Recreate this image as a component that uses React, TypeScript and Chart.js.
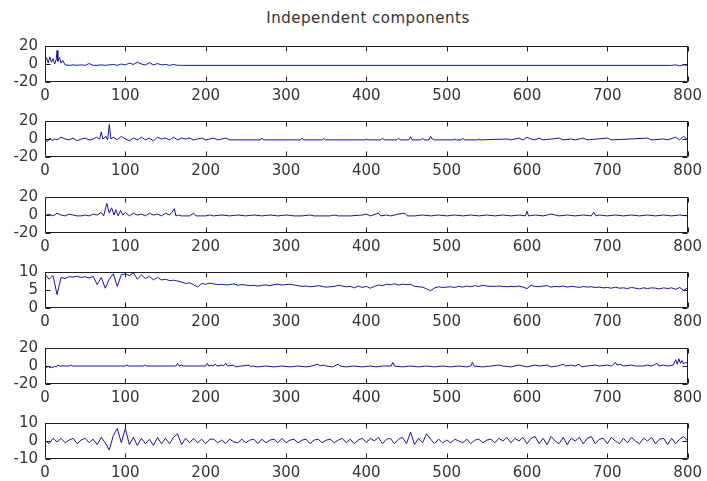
import React, { useEffect, useRef } from "react";
import { Chart, registerables } from "chart.js";
Chart.register(...registerables);

// ---------- data ----------
const title = "Independent components";
const xTicks = [0, 100, 200, 300, 400, 500, 600, 700, 800];
const xMin = 0;
const xMax = 800;
const sampleStep = 5; // sample spacing for the densely read components

const yTicks1 = [-20, 0, 20];
const yTicks2 = [-20, 0, 20];
const yTicks3 = [-20, 0, 20];
const yTicks4 = [0, 5, 10];
const yTicks5 = [-20, 0, 20];
const yTicks6 = [-10, 0, 10];

// component 1: [sample, value]
const comp1: [number, number][] = [
  [0, 3], [2, 7], [4, 1], [6, 8], [8, 2], [10, 6], [12, 0], [14, 5], [15, 15], [16, 3],
  [18, 7], [20, 1], [22, 4], [25, -1], [30, -1.5], [35, -1], [40, -1.5], [45, -1], [50, -1.5], [55, 0.5],
  [60, -1.5], [65, -1.5], [70, -1], [75, -1.5], [80, -1], [85, -0.5], [90, -1.5], [95, 0], [100, -1], [105, 1],
  [110, -0.5], [115, 2], [120, 0], [125, -1], [130, 1.5], [135, -1], [140, 0.5], [145, -1], [150, -0.5], [155, -1.5],
  [160, -0.5], [165, -1.5], [170, -1.5], [780, -1.5], [785, -1], [790, -2], [795, -1], [800, -1.5],
];

// component 2
const comp2: [number, number][] = [
  [0, 0], [3, -3], [6, 1], [9, -2], [12, 0], [15, -1], [20, 2], [25, 0], [30, -1], [35, 1],
  [40, -2], [45, 0], [50, 1], [55, -1], [60, 0], [64, 2], [68, 0], [70, 8], [72, 0], [76, 3],
  [78, -1], [80, 16], [82, 0], [85, 2], [90, -1], [95, 3], [100, 0], [105, -2], [110, 1], [115, -1],
  [120, 2], [125, -1], [130, 1], [135, -2], [140, 2], [145, 0], [150, 1], [155, -1], [160, 2], [165, -1],
  [170, 1], [175, 0], [180, 1], [185, -1], [190, 0], [195, 1], [200, -1], [205, 0], [210, 1], [215, -1],
  [220, 0], [225, 1], [230, -1], [240, -1], [250, -1], [268, -1], [270, 1], [272, -1], [318, -1], [320, 1],
  [322, -1], [345, -1], [347, 0.5], [349, -1], [398, -1], [400, 0], [402, -1], [418, -1], [420, 1], [422, -1],
  [438, -1], [440, 1], [442, -1], [453, -1], [455, 2.5], [457, -1], [468, -1], [470, 1], [472, -1], [478, -1],
  [480, 3], [482, 0], [485, -1], [508, -1], [510, 0], [512, -1], [518, -1], [520, 1], [522, -1], [538, -1],
  [540, 0], [542, -1], [575, 0], [580, -1], [590, 1], [595, -1], [600, 2], [605, 0], [610, -1], [615, 1],
  [620, -1], [630, 0], [640, 1], [645, -1], [655, 0], [660, -1], [670, 1], [675, -1], [700, 1], [705, -1],
  [750, 1], [755, -1], [770, 0], [775, -1], [785, 2], [790, -1], [795, 3], [800, -1],
];

// component 3
const comp3: [number, number][] = [
  [0, -1], [5, 1], [10, -1], [15, 2], [20, 0], [25, -1], [30, 1], [35, 0], [40, -1], [45, -1],
  [50, 0], [55, -1], [60, 1], [65, 0], [70, 3], [73, -1], [77, 13], [80, 2], [83, 8], [86, 0],
  [88, 6], [91, -1], [94, 5], [97, 0], [100, 3], [105, -1], [110, 2], [115, 0], [120, 1], [125, -1],
  [130, 2], [135, 0], [140, 1], [145, -1], [150, 2], [155, 0], [158, 3], [161, 7], [163, -1], [166, 0],
  [170, -1], [180, -1], [185, 2], [188, -1], [200, -1], [205, 0], [210, -1], [220, 0], [230, -1], [240, 0],
  [250, -1], [260, 0], [270, -1], [280, 0], [290, -1], [300, 0], [310, -1], [320, -1], [330, 0], [335, -1],
  [355, -1], [360, 0], [365, -1], [380, -1], [395, 0], [400, 1], [405, -1], [415, 2], [418, -1], [425, 0],
  [430, -1], [440, 1], [448, 2], [451, -1], [460, -1], [470, 0], [480, -1], [490, 0], [500, -1], [510, 0],
  [520, -1], [530, 0], [540, -1], [550, 0], [560, -1], [570, 0], [580, -1], [590, 0], [598, -1], [600, 4],
  [602, -1], [610, 0], [620, -1], [630, 1], [640, -1], [650, 0], [660, -1], [670, 0], [680, -1], [683, 3],
  [686, -1], [690, 0], [700, -1], [710, 0], [720, -1], [730, 0], [740, -1], [750, 0], [760, -1], [770, 0],
  [780, -1], [790, 0], [800, -1],
];

// component 4: one value every sampleStep samples (0..800)
const comp4: number[] = [
  9.5, 8, 9, 3.7, 8.5, 8.2, 8.7, 8.6, 8.8, 8.5,
  8.7, 8.3, 8.8, 6.5, 8.5, 5.5, 8, 9.5, 6, 9.3,
  9.5, 9, 9.8, 8, 9.2, 8.2, 8.8, 7.8, 8.5, 7.8,
  8, 7.6, 7.7, 7.5, 7.2, 6.8, 7, 6.5, 5.8, 6.8,
  6.6, 6.9, 6.7, 6.5, 6.6, 6.4, 6.5, 6.7, 6.3, 6.5,
  6.4, 6.2, 6.3, 6.1, 6.3, 6.4, 6.2, 6.5, 6.6, 6.4,
  6.5, 6.6, 6.4, 6.2, 6, 6.1, 5.9, 6, 6.2, 6,
  5.8, 5.9, 6, 6.3, 6.1, 5.9, 6, 5.6, 6.1, 5.7,
  6, 5.5, 6, 6.4, 6.2, 6.6, 6.5, 6.7, 6.4, 6.6,
  6.5, 6.6, 6, 5.9, 5.8, 5.3, 4.8, 5.6, 5.9, 5.7,
  5.8, 5.9, 5.7, 6, 5.8, 6.1, 5.9, 6.2, 6, 6.3,
  6.1, 6, 6, 6.1, 6, 5.9, 6, 5.9, 6.1, 5.8,
  5.4, 6.3, 6, 5.9, 6.1, 6.2, 5.8, 6, 5.9, 6.1,
  5.8, 6, 5.9, 5.7, 6, 5.8, 5.9, 5.7, 5.8, 5.6,
  5.7, 5.5, 5.8, 5.5, 5.6, 5.4, 5.7, 5.5, 5.3, 5.6,
  5.4, 5.6, 5.5, 5.3, 5.6, 5.4, 5.6, 5.2, 5.7, 4.9,
  5.6,
];

// component 5
const comp5: [number, number][] = [
  [0, -1], [2, -2], [4, 0], [6, -2], [8, -1], [10, -2], [12, 0], [14, -1], [16, 1], [18, 0],
  [30, 0], [32, 1], [34, 0], [100, 0], [102, 1], [104, 0], [122, 0], [124, 1], [126, 0], [163, 0],
  [165, 3], [167, 0], [170, 1], [172, 0], [200, 0], [202, 3], [204, 0], [207, 1], [209, 0], [212, 2],
  [214, 0], [220, 1], [222, 0], [225, 3], [227, 0], [235, 1], [237, -1], [245, 0], [254, 1], [256, -1],
  [258, 0], [265, -1], [275, 0], [285, -1], [295, 0], [305, -1], [315, 0], [325, -1], [332, 0], [336, 1],
  [340, 2], [342, 0], [346, 1], [350, 0], [358, -1], [365, 2], [367, 0], [375, -1], [385, 0], [395, -1],
  [405, 0], [412, -1], [420, 0], [431, 0], [433, 4], [435, 0], [445, -1], [455, 0], [465, -1], [475, 0],
  [485, -1], [495, 0], [505, -1], [515, 0], [525, -1], [530, 0], [532, 4], [534, 0], [545, -1], [555, 0],
  [565, 1], [570, 0], [580, -1], [590, 1], [595, 0], [600, -1], [610, 1], [615, 0], [625, 1], [630, -1],
  [638, 0], [642, 1], [645, 2], [648, 0], [655, 1], [660, 0], [665, 2], [668, -1], [675, 0], [685, 1],
  [690, 0], [700, 1], [705, 0], [708, 2], [710, 4], [712, 1], [716, 2], [720, 0], [730, 1], [735, 0],
  [745, 0], [750, 1], [755, 0], [760, 2], [762, 3], [764, 0], [770, 1], [775, 0], [782, 1], [785, 7],
  [787, 2], [789, 8], [791, 3], [793, 6], [795, 2], [797, 4], [800, 3],
];

// component 6: one value every sampleStep samples (0..800)
const comp6: number[] = [
  0.5, -1.5, 1.5, -0.5, 1.5, -1, 0.5, 1.5, -1.5, 0.5,
  1.5, -1, 1, -2, 2, -1, -5, 3, 7, -1,
  7, -2, 2, -2.5, 1.5, -1.5, 1, -2.5, 2, -1.5,
  1.5, -1.5, 2, 4, -2, 1.5, -1, 1.5, -1, 1,
  -1.5, 1, 1, -1, 0.5, -1.5, 1, -0.5, -1, 1,
  -1, 0.5, 1, -1.5, 1, -1, 0.5, 1, -1, 1.5,
  -1, 0.5, 1, -1, 0.5, 1, -1.5, 0.5, 1, -1,
  0.5, 1, -1, 0.5, 1.5, -1, 1, -1.5, 0.5, 1.5,
  -1, 1.5, 0, 2, -1.5, 1, 1.5, -1.5, 1, 2,
  -1.5, 5, -2, 1.5, -1, 4, 1, -1.5, 1, -1,
  0.5, -1, 1, 0, -1, 1, -1.5, 0.5, 1, -1,
  0.5, 1, -1, 1.5, 0, 2, -1, 1.5, 0, 2,
  -1.5, 1.5, 2.5, -1.5, 1.5, -2, 2.5, 0, -1.5, 2,
  -2, 1.5, 0, 2, -1.5, 1.5, 2.5, -1.5, 1, 1.5,
  -1.5, 2, 0, -1.5, 1.5, -1, 2, 0, -1.5, 1.5,
  0, 2, -1.5, 1, 1.5, -2, 1.5, -1.5, 1, 2.5,
  0,
];

// ---------- layout / style ----------
const W = 707;
const H = 481;
const AXIS_LEFT = 45;
const AXIS_RIGHT = 691;
const PANEL_H = 43;
const PANEL_TOPS = [39, 114, 190, 265, 341, 416];
const PAD_TOP = 9;
const XAXIS_H = 24;
const LINE_COLOR = "#1515a0";
const AXIS_COLOR = "#1e1e1e";
const TEXT_COLOR = "#333333";
const FONT = { family: "'DejaVu Sans', sans-serif", size: 15 };
const TICK_LEN = 5;

const pairs = (p: [number, number][]) => p.map(([x, y]) => ({ x, y }));
const sampled = (v: number[]) => v.map((y, i) => ({ x: i * sampleStep, y }));

const panels = [
  { points: pairs(comp1), yTicks: yTicks1 },
  { points: pairs(comp2), yTicks: yTicks2 },
  { points: pairs(comp3), yTicks: yTicks3 },
  { points: sampled(comp4), yTicks: yTicks4 },
  { points: pairs(comp5), yTicks: yTicks5 },
  { points: sampled(comp6), yTicks: yTicks6 },
];

const boxPlugin = {
  id: "matlabBox",
  afterDraw(chart: any) {
    const { ctx, chartArea } = chart;
    const xs = chart.scales.x;
    const ys = chart.scales.y;
    const l = Math.round(chartArea.left) + 0.5;
    const r = Math.round(chartArea.right) - 0.5;
    const t = Math.round(chartArea.top) + 0.5;
    const b = Math.round(chartArea.bottom) - 0.5;
    ctx.save();
    ctx.strokeStyle = AXIS_COLOR;
    ctx.lineWidth = 1;
    ctx.beginPath();
    ctx.rect(l, t, r - l, b - t);
    for (const v of xTicks) {
      const px = Math.round(xs.getPixelForValue(v)) + 0.5;
      ctx.moveTo(px, t);
      ctx.lineTo(px, t + TICK_LEN);
      ctx.moveTo(px, b);
      ctx.lineTo(px, b - TICK_LEN);
    }
    for (const tk of ys.ticks) {
      const py = Math.round(ys.getPixelForValue(tk.value)) + 0.5;
      ctx.moveTo(l, py);
      ctx.lineTo(l + TICK_LEN, py);
      ctx.moveTo(r, py);
      ctx.lineTo(r - TICK_LEN, py);
    }
    ctx.stroke();
    ctx.restore();
  },
};

function Panel({ index }: { index: number }) {
  const ref = useRef<HTMLCanvasElement | null>(null);
  const panel = panels[index];
  const top = PANEL_TOPS[index];
  const canvasH = PAD_TOP + PANEL_H + XAXIS_H;

  useEffect(() => {
    if (!ref.current) return;
    const yT = panel.yTicks;
    const chart = new Chart(ref.current, {
      type: "line",
      data: {
        datasets: [
          {
            data: panel.points,
            borderColor: LINE_COLOR,
            borderWidth: 1,
            pointRadius: 0,
            tension: 0,
            fill: false,
          },
        ],
      },
      options: {
        responsive: false,
        animation: false,
        events: [],
        parsing: false,
        normalized: true,
        layout: { padding: { top: PAD_TOP, left: 0, right: W - AXIS_RIGHT, bottom: 0 } },
        plugins: {
          legend: { display: false },
          tooltip: { enabled: false },
          title: { display: false },
        },
        scales: {
          x: {
            type: "linear",
            min: xMin,
            max: xMax,
            afterBuildTicks: (s: any) => {
              s.ticks = xTicks.map((v) => ({ value: v }));
            },
            afterFit: (s: any) => {
              s.height = XAXIS_H;
            },
            grid: { display: false, drawTicks: false },
            border: { display: false },
            ticks: {
              padding: 5,
              color: TEXT_COLOR,
              font: FONT,
              autoSkip: false,
              maxRotation: 0,
            },
          },
          y: {
            type: "linear",
            min: yT[0],
            max: yT[yT.length - 1],
            afterBuildTicks: (s: any) => {
              s.ticks = yT.map((v) => ({ value: v }));
            },
            afterFit: (s: any) => {
              s.width = AXIS_LEFT;
            },
            grid: { display: false, drawTicks: false },
            border: { display: false },
            ticks: {
              padding: 7,
              color: TEXT_COLOR,
              font: FONT,
              autoSkip: false,
            },
          },
        },
      } as any,
      plugins: [boxPlugin],
    });
    return () => chart.destroy();
  }, [index]);

  return (
    <canvas
      ref={ref}
      width={W}
      height={canvasH}
      style={{ position: "absolute", left: 0, top: top - PAD_TOP, width: W, height: canvasH }}
    />
  );
}

export default function App() {
  return (
    <div
      style={{
        position: "fixed",
        left: 0,
        top: 0,
        width: W,
        height: H,
        background: "#ffffff",
        overflow: "hidden",
      }}
    >
      <div
        style={{
          position: "absolute",
          left: AXIS_LEFT,
          width: AXIS_RIGHT - AXIS_LEFT,
          top: 9,
          textAlign: "center",
          fontFamily: "'DejaVu Sans', sans-serif",
          fontSize: 15,
          letterSpacing: "0.5px",
          color: TEXT_COLOR,
          lineHeight: "18px",
        }}
      >
        {title}
      </div>
      {panels.map((_, i) => (
        <Panel key={i} index={i} />
      ))}
    </div>
  );
}
